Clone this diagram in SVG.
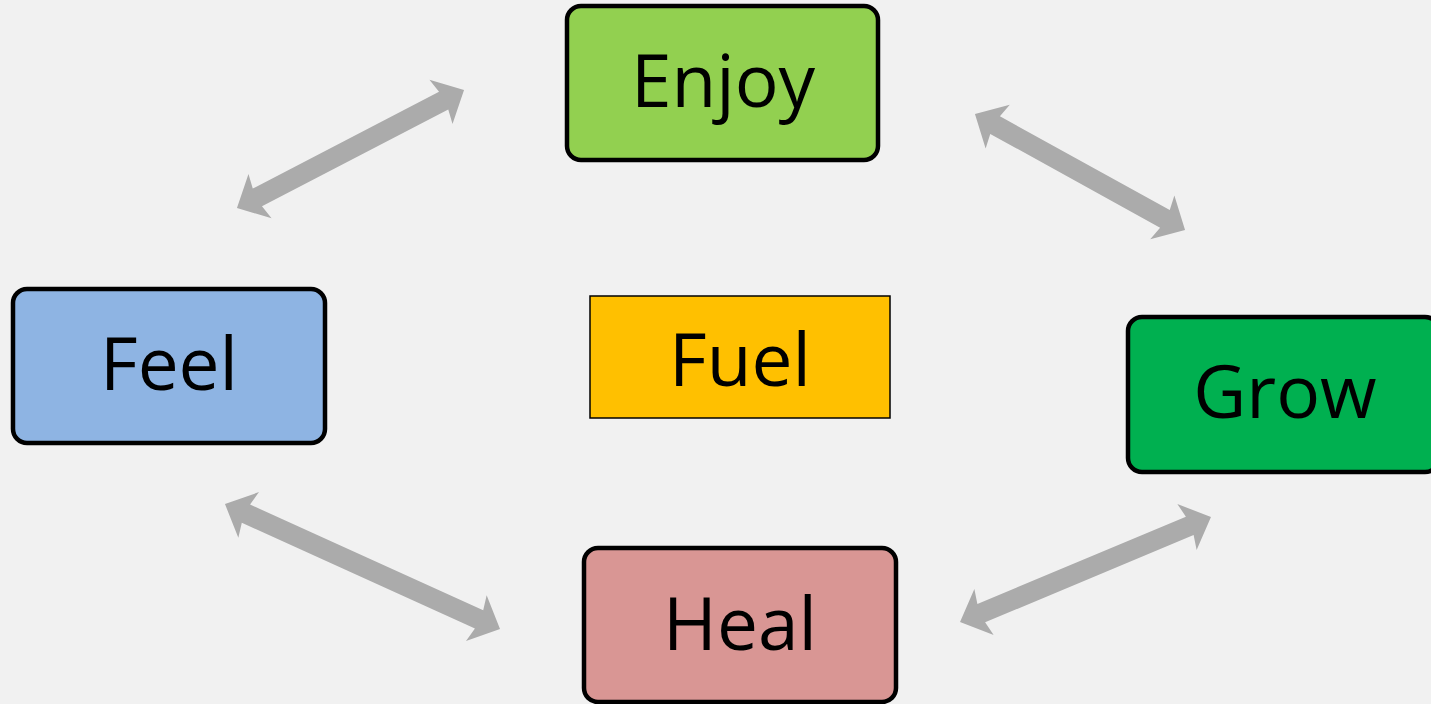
<svg xmlns="http://www.w3.org/2000/svg" width="1431" height="704" viewBox="0 0 1431 704">
<style>
.box{stroke:#000;stroke-width:4.5}
.lbl{font-family:"Open Sans","Liberation Sans",sans-serif;font-size:73px;fill:#000;text-anchor:middle}
.arr{fill:#ABABAB}
</style>
<rect width="1431" height="704" fill="#F1F1F1"/>
<g id="connectors">
<g transform="translate(350.5,149) rotate(-27.5)"><path class="arr" d="M-128 0 L-102 -25 L-105 -10 L105 -10 L102 -25 L128 0 L102 25 L105 10 L-105 10 L-102 25 Z"/></g>
<g transform="translate(1080,172) rotate(28.9)"><path class="arr" d="M-120 0 L-94 -25 L-97 -10 L97 -10 L94 -25 L120 0 L94 25 L97 10 L-97 10 L-94 25 Z"/></g>
<g transform="translate(362.5,566.5) rotate(24.4)"><path class="arr" d="M-151 0 L-125 -25 L-128 -10 L128 -10 L125 -25 L151 0 L125 25 L128 10 L-128 10 L-125 25 Z"/></g>
<g transform="translate(1085.5,569.5) rotate(-22.7)"><path class="arr" d="M-136 0 L-110 -25 L-113 -10 L113 -10 L110 -25 L136 0 L110 25 L113 10 L-113 10 L-110 25 Z"/></g>
</g>
<g id="enjoy"><rect class="box" x="567" y="6" width="311" height="154" rx="14" fill="#92D050"/><text class="lbl" x="723" y="107">Enjoy</text></g>
<g id="feel"><rect class="box" x="13" y="289" width="312" height="154" rx="14" fill="#8EB4E3"/><text class="lbl" x="169" y="390">Feel</text></g>
<g id="fuel"><rect x="590" y="296" width="300" height="122" fill="#FFC000" stroke="#000" stroke-width="1.5"/><text class="lbl" x="740" y="386">Fuel</text></g>
<g id="grow"><rect class="box" x="1128" y="317" width="311" height="155" rx="14" fill="#00B050"/><text class="lbl" x="1285" y="418">Grow</text></g>
<g id="heal"><rect class="box" x="584" y="548" width="312" height="154" rx="14" fill="#D99694"/><text class="lbl" x="740" y="650">Heal</text></g>
</svg>
